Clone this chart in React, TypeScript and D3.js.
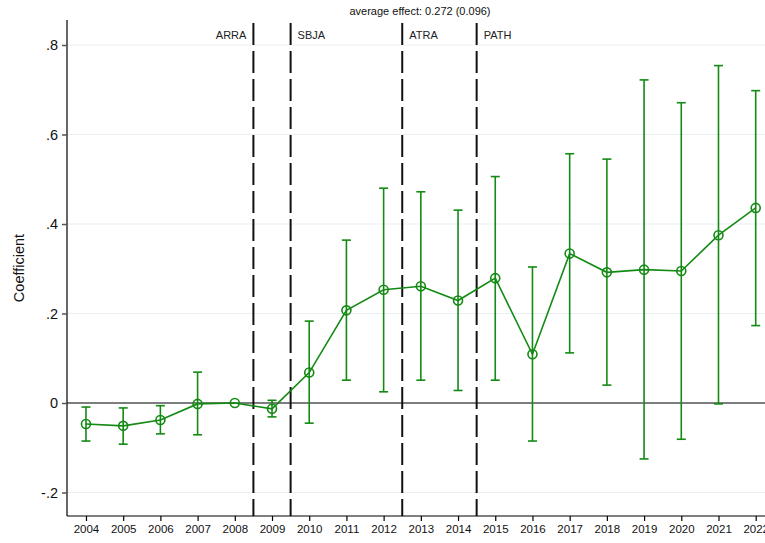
import React, { useEffect, useRef } from "react";
import * as d3 from "d3";

// event-study estimates
const years = [2004, 2005, 2006, 2007, 2008, 2009, 2010, 2011, 2012, 2013, 2014, 2015, 2016, 2017, 2018, 2019, 2020, 2021, 2022];
const coef = [-0.047, -0.051, -0.038, -0.002, 0, -0.013, 0.068, 0.207, 0.253, 0.261, 0.229, 0.279, 0.109, 0.334, 0.292, 0.298, 0.295, 0.375, 0.436];
const ciHigh = [-0.009, -0.011, -0.006, 0.069, 0, 0.006, 0.183, 0.364, 0.48, 0.472, 0.431, 0.506, 0.304, 0.557, 0.545, 0.722, 0.671, 0.754, 0.698];
const ciLow = [-0.085, -0.092, -0.069, -0.071, 0, -0.031, -0.045, 0.051, 0.025, 0.051, 0.028, 0.051, -0.085, 0.112, 0.04, -0.125, -0.081, -0.002, 0.173];

const yTicks = [-0.2, 0, 0.2, 0.4, 0.6, 0.8];
const yTickLabels = ["-.2", "0", ".2", ".4", ".6", ".8"];
const policyNames = ["ARRA", "SBJA", "ATRA", "PATH"];
const policyAt = [2008.5, 2009.5, 2012.5, 2014.5];
const policySide = ["left", "right", "right", "right"];

const W = 765, H = 543;
const left = 67, right = 765, top = 20, bottom = 516;
const green = "#138a13";
const font = "Liberation Sans, Arial, Helvetica, sans-serif";

export default function App() {
  const ref = useRef<SVGSVGElement>(null);

  useEffect(() => {
    const svg = d3.select(ref.current);
    svg.selectAll("*").remove();

    const x = d3.scaleLinear().domain([2003.49, 2022.25]).range([left, right]);
    const y = d3.scaleLinear().domain([-0.2525, 0.8]).range([bottom, 45]);

    // grid lines
    svg.append("g")
      .selectAll("line")
      .data(yTicks)
      .enter()
      .append("line")
      .attr("x1", left).attr("x2", right)
      .attr("y1", (d: number) => y(d)).attr("y2", (d: number) => y(d))
      .attr("stroke", "#e9eff3").attr("stroke-width", 1.2);

    // zero line
    svg.append("line")
      .attr("x1", left).attr("x2", right)
      .attr("y1", y(0)).attr("y2", y(0))
      .attr("stroke", "#555").attr("stroke-width", 1.5);

    // policy lines
    svg.append("g")
      .selectAll("line")
      .data(policyAt)
      .enter()
      .append("line")
      .attr("x1", (d: number) => x(d)).attr("x2", (d: number) => x(d))
      .attr("y1", 23).attr("y2", bottom)
      .attr("stroke", "#111").attr("stroke-width", 2)
      .attr("stroke-dasharray", "22,6");

    svg.append("g")
      .selectAll("text")
      .data(policyNames)
      .enter()
      .append("text")
      .text((d: string) => d)
      .attr("x", (_d: string, i: number) => x(policyAt[i]) + (policySide[i] === "left" ? -7 : 7))
      .attr("y", 39)
      .attr("text-anchor", (_d: string, i: number) => (policySide[i] === "left" ? "end" : "start"))
      .attr("font-family", font).attr("font-size", 11).attr("fill", "#222");

    // error bars
    const bars = svg.append("g").attr("stroke", green).attr("stroke-width", 1.6).attr("fill", "none");
    years.forEach((yr, i) => {
      if (ciHigh[i] === ciLow[i]) return;
      const cx = x(yr);
      bars.append("line").attr("x1", cx).attr("x2", cx).attr("y1", y(ciHigh[i])).attr("y2", y(ciLow[i]));
      bars.append("line").attr("x1", cx - 4.5).attr("x2", cx + 4.5).attr("y1", y(ciHigh[i])).attr("y2", y(ciHigh[i]));
      bars.append("line").attr("x1", cx - 4.5).attr("x2", cx + 4.5).attr("y1", y(ciLow[i])).attr("y2", y(ciLow[i]));
    });

    // connecting line
    const line = d3.line<number>()
      .x((_d, i) => x(years[i]))
      .y((d) => y(d));
    svg.append("path")
      .datum(coef)
      .attr("d", line)
      .attr("fill", "none").attr("stroke", green).attr("stroke-width", 1.6);

    // markers
    svg.append("g")
      .selectAll("circle")
      .data(coef)
      .enter()
      .append("circle")
      .attr("cx", (_d: number, i: number) => x(years[i]))
      .attr("cy", (d: number) => y(d))
      .attr("r", 4.5)
      .attr("fill", "none").attr("stroke", green).attr("stroke-width", 1.6);

    // axes
    const yAxis = svg.append("g")
      .attr("transform", `translate(${left},0)`)
      .call(d3.axisLeft(y).tickValues(yTicks).tickSize(5).tickPadding(4)
        .tickFormat((_d: any, i: number) => yTickLabels[i]));
    yAxis.select(".domain").attr("d", `M0,${top}V${bottom}`).attr("stroke", "#000").attr("stroke-width", 1.2);
    yAxis.selectAll(".tick line").attr("stroke", "#555").attr("stroke-width", 1.5);
    yAxis.selectAll("text").attr("font-family", font).attr("font-size", 14.5).attr("fill", "#111");

    const xAxis = svg.append("g")
      .attr("transform", `translate(0,${bottom})`)
      .call(d3.axisBottom(x).tickValues(years).tickSize(5).tickPadding(4).tickFormat(d3.format("d")));
    xAxis.select(".domain").attr("d", `M${left},0H${right}`).attr("stroke", "#000").attr("stroke-width", 1.2);
    xAxis.selectAll(".tick line").attr("stroke", "#000").attr("stroke-width", 1.2);
    xAxis.selectAll("text").attr("font-family", font).attr("font-size", 11.5).attr("fill", "#111");

    // titles
    svg.append("text")
      .text("Coefficient")
      .attr("transform", `translate(24,268) rotate(-90)`)
      .attr("text-anchor", "middle")
      .attr("font-family", font).attr("font-size", 14.5).attr("fill", "#111");

    svg.append("text")
      .text("average effect: 0.272 (0.096)")
      .attr("x", 420).attr("y", 15)
      .attr("text-anchor", "middle")
      .attr("font-family", font).attr("font-size", 11).attr("fill", "#111");
  }, []);

  return (
    <svg ref={ref} width={W} height={H}
      style={{ position: "absolute", left: 0, top: 0, background: "#fff" }} />
  );
}
